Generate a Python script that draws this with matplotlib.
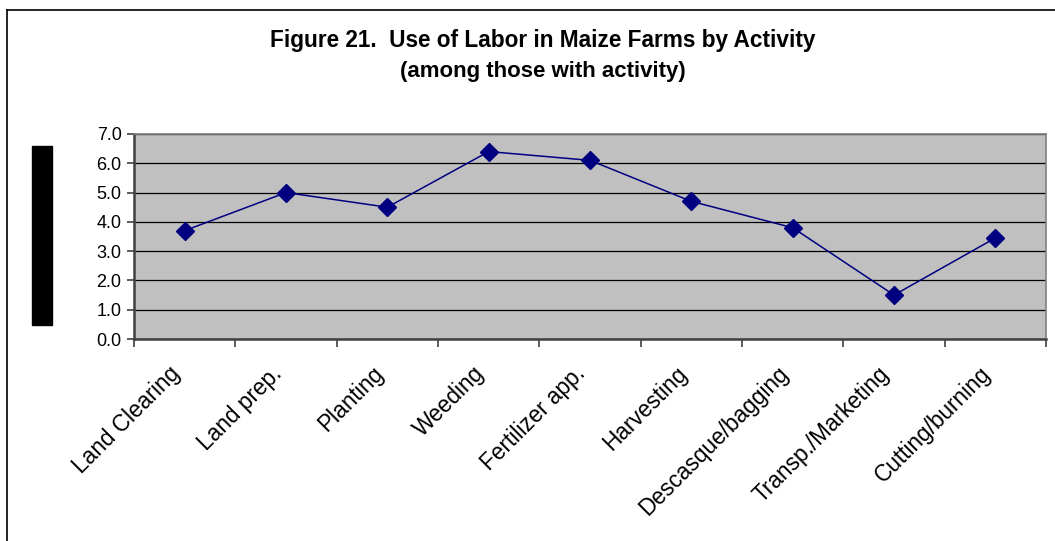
import matplotlib.pyplot as plt
import matplotlib.transforms as mtransforms
import numpy as np
from matplotlib.patches import Rectangle
from matplotlib.lines import Line2D

plt.rcParams['font.family'] = ['Liberation Sans', 'DejaVu Sans']

# Data
activities = ["Land Clearing", "Land prep.", "Planting", "Weeding", "Fertilizer app.",
              "Harvesting", "Descasque/bagging", "Transp./Marketing", "Cutting/burning"]
labor = [3.7, 5.0, 4.5, 6.4, 6.1, 4.7, 3.8, 1.5, 3.45]
y_ticks = [0, 1, 2, 3, 4, 5, 6, 7]

W, H = 1055, 541
fig = plt.figure(figsize=(W / 100, H / 100), dpi=100)
ax = fig.add_axes([134 / W, 1 - 339 / H, (1046 - 134) / W, (339 - 134) / H])

x = np.arange(len(activities))
ax.set_facecolor("#C0C0C0")
ax.plot(x, labor, color="#000080", lw=1.1, marker="D", markersize=9.5,
        markerfacecolor="#000080", markeredgecolor="#000080", zorder=3)

ax.set_xlim(-0.5, len(activities) - 0.5)
ax.set_ylim(0, 7)
ax.set_yticks(y_ticks)
ax.set_yticklabels([f"{v:.1f}" for v in y_ticks], fontsize=13)
ax.yaxis.grid(True, color="black", lw=0.9)
ax.set_axisbelow(True)

# tick marks between categories
ax.set_xticks(np.arange(len(activities) + 1) - 0.5)
ax.set_xticklabels([])
ax.tick_params(axis="x", length=6, width=1.2, color="#404040")
ax.tick_params(axis="y", length=5, width=1.2, color="#404040", pad=4)

# category labels, rotated 45 degrees below the axis
trans = mtransforms.blended_transform_factory(ax.transData, ax.transAxes)
offset = mtransforms.ScaledTranslation(-16 / 100, -23 / 100, fig.dpi_scale_trans)
for xi, name in zip(x, activities):
    ax.text(xi, 0, name, transform=trans + offset, rotation=45, ha="right", va="top",
            rotation_mode="anchor", fontsize=16.3, clip_on=False)

for s in ["left", "bottom"]:
    ax.spines[s].set_color("#404040")
    ax.spines[s].set_linewidth(1.8)
for s in ["top", "right"]:
    ax.spines[s].set_color("#808080")
    ax.spines[s].set_linewidth(1.2)

fig.text(543 / W, 1 - 41 / H, "Figure 21.  Use of Labor in Maize Farms by Activity",
         ha="center", va="center", fontsize=16.3, fontweight="bold")
fig.text(543 / W, 1 - 72 / H, "(among those with activity)",
         ha="center", va="center", fontsize=16, fontweight="bold")

# black box on the left (axis title placeholder)
fig.patches.append(Rectangle((32 / W, 1 - 325 / H), 20 / W, 179 / H,
                             transform=fig.transFigure, color="black"))

# outer chart border (left and top edges visible)
fig.lines.append(Line2D([7 / W, 7 / W], [0, 1 - 10 / H], transform=fig.transFigure,
                        color="black", lw=1.2))
fig.lines.append(Line2D([7 / W, 1], [1 - 10 / H, 1 - 10 / H], transform=fig.transFigure,
                        color="black", lw=1.2))

fig.savefig("out.png", dpi=100, facecolor="white")
